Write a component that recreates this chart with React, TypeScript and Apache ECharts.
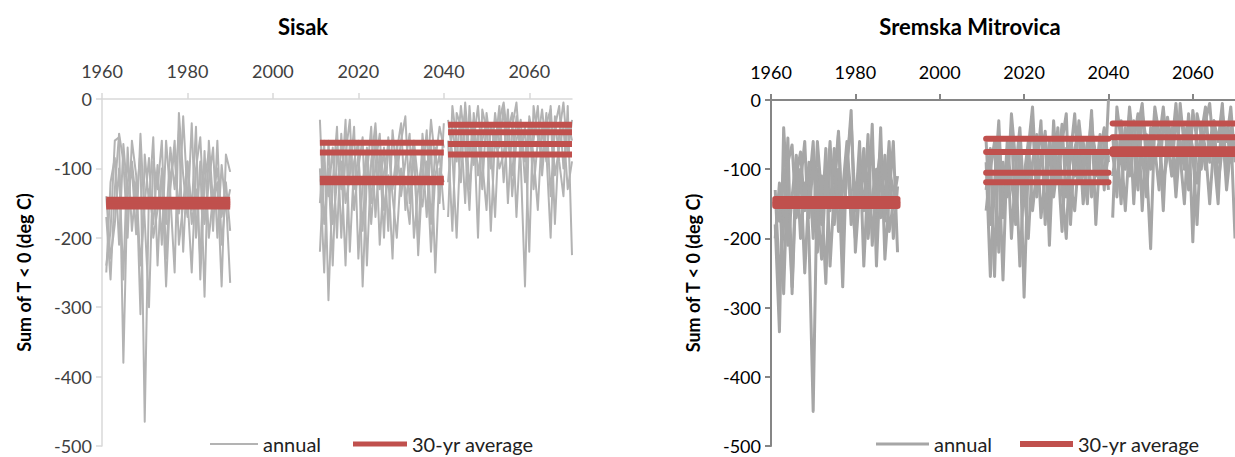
import React, { useEffect, useRef } from "react";
import * as echarts from "echarts";

// ---------- DATA ----------
const xTicks = [1960, 1980, 2000, 2020, 2040, 2060];
const titles = ["Sisak", "Sremska Mitrovica"];
const yName = "Sum of T < 0 (deg C)";
const legendNames = ["annual", "30-yr average"];

const histStart = 1961;
const histEnd = 1990;
const nearStart = 2011;
const nearEnd = 2040;
const farStart = 2041;
const farEnd = 2070;

// Sisak annual members
const sisakHistA = [-240, -190, -60, -55, -380, -120, -90, -150, -75, -465, -130, -180, -95, -210, -60, -140, -250, -20, -110, -170, -35, -200, -90, -285, -60, -150, -120, -270, -80, -105];
const sisakHistB = [-170, -260, -130, -50, -90, -200, -60, -110, -310, -80, -150, -55, -240, -100, -180, -70, -130, -45, -220, -90, -160, -40, -260, -120, -75, -190, -60, -210, -140, -265];
const sisakHistC = [-250, -120, -85, -210, -65, -140, -100, -195, -50, -175, -300, -90, -130, -60, -230, -110, -80, -165, -25, -140, -250, -100, -55, -180, -120, -70, -200, -95, -160, -130];
const sisakHistD = [-140, -230, -180, -100, -260, -70, -190, -120, -240, -150, -85, -200, -160, -110, -270, -130, -60, -210, -150, -90, -180, -130, -230, -75, -200, -140, -100, -170, -120, -190];

const sisakNearA = [-150, -60, -290, -120, -40, -200, -80, -30, -160, -100, -55, -240, -90, -35, -130, -70, -190, -45, -110, -60, -25, -150, -80, -210, -50, -120, -30, -90, -40, -70];
const sisakNearB = [-30, -180, -100, -240, -70, -130, -30, -220, -90, -60, -270, -110, -40, -170, -80, -200, -55, -130, -75, -35, -160, -95, -60, -225, -110, -45, -180, -70, -150, -35];
const sisakNearC = [-220, -90, -140, -70, -200, -50, -150, -110, -40, -230, -120, -75, -180, -95, -50, -160, -110, -230, -65, -140, -90, -50, -200, -130, -80, -170, -60, -250, -100, -120];
const sisakNearD = [-100, -250, -60, -180, -120, -90, -240, -60, -130, -80, -190, -70, -150, -50, -210, -105, -65, -140, -200, -100, -130, -180, -60, -120, -155, -90, -220, -110, -80, -160];

const sisakFarA = [-170, -10, -60, -120, -5, -80, -30, -200, -15, -45, -100, -20, -70, -10, -150, -40, -5, -90, -270, -25, -60, -10, -110, -35, -15, -180, -50, -5, -80, -30];
const sisakFarB = [-60, -190, -20, -40, -150, -10, -95, -50, -130, -20, -70, -170, -30, -5, -60, -110, -25, -80, -40, -220, -10, -55, -90, -20, -140, -40, -10, -100, -30, -60];
const sisakFarC = [-30, -80, -200, -50, -20, -130, -60, -10, -90, -160, -35, -70, -10, -120, -45, -20, -170, -50, -90, -30, -130, -60, -15, -75, -200, -25, -90, -140, -10, -225];
const sisakFarD = [-120, -40, -90, -10, -70, -160, -20, -110, -60, -30, -190, -50, -100, -80, -15, -140, -60, -30, -120, -45, -80, -160, -40, -90, -10, -110, -70, -40, -130, -90];

const sisakHistAvg = [-145, -148, -152, -155];
const sisakNearAvg = [-63, -77, -115, -120];
const sisakFarAvg = [-37, -48, -65, -80];

// Sremska Mitrovica annual members
const sremHistA = [-180, -335, -40, -150, -270, -90, -120, -60, -200, -450, -100, -180, -70, -240, -130, -50, -210, -90, -30, -160, -60, -240, -110, -70, -190, -40, -230, -140, -60, -220];
const sremHistB = [-130, -260, -180, -55, -280, -110, -75, -160, -90, -200, -60, -140, -265, -80, -120, -45, -190, -100, -15, -220, -130, -70, -170, -35, -240, -90, -150, -60, -200, -125];
const sremHistC = [-200, -120, -280, -90, -65, -170, -100, -250, -130, -60, -220, -110, -150, -60, -180, -100, -270, -70, -140, -200, -95, -160, -50, -210, -120, -70, -175, -100, -130, -150];
const sremHistD = [-150, -175, -100, -210, -140, -80, -200, -120, -170, -90, -150, -230, -110, -160, -70, -190, -130, -60, -180, -120, -150, -90, -200, -140, -100, -170, -80, -190, -150, -110];

const sremNearA = [-130, -70, -255, -50, -150, -100, -40, -180, -60, -285, -90, -30, -140, -80, -50, -170, -30, -120, -60, -20, -180, -70, -45, -150, -90, -25, -110, -50, -130, 0];
const sremNearB = [-90, -255, -120, -30, -170, -60, -200, -100, -40, -150, -70, -10, -130, -90, -45, -210, -60, -100, -35, -140, -80, -20, -120, -60, -100, -15, -180, -75, -40, -90];
const sremNearC = [-160, -100, -60, -220, -90, -140, -20, -90, -240, -110, -60, -160, -100, -30, -180, -70, -120, -40, -130, -200, -60, -110, -30, -90, -150, -40, -80, -120, -60, -130];
const sremNearD = [-60, -180, -130, -90, -260, -70, -120, -160, -80, -130, -200, -90, -50, -170, -110, -60, -140, -90, -190, -70, -120, -160, -80, -110, -60, -140, -100, -70, -120, -80];

const sremFarA = [-170, -10, -60, -100, -20, -150, -40, -5, -90, -215, -30, -60, -10, -80, -40, -120, -5, -70, -30, -205, -20, -50, -10, -90, -30, -60, -5, -110, -40, -200];
const sremFarB = [-50, -140, -30, -90, -10, -70, -130, -20, -60, -100, -10, -50, -160, -25, -70, -5, -90, -40, -130, -15, -60, -100, -30, -5, -80, -150, -20, -60, -10, -90];
const sremFarC = [-110, -60, -150, -40, -110, -60, -20, -160, -50, -90, -70, -130, -30, -60, -110, -20, -80, -150, -40, -70, -180, -50, -100, -60, -30, -120, -70, -40, -90, -60];
const sremFarD = [-80, -120, -70, -160, -60, -30, -110, -80, -140, -40, -90, -60, -120, -80, -50, -140, -60, -100, -20, -90, -120, -40, -70, -150, -60, -90, -40, -130, -70, -50];

const sremHistAvg = [-143, -147, -150, -153];
const sremNearAvg = [-56, -75, -105, -119];
const sremFarAvg = [-34, -54, -71, -78];

// ---------- CHART ----------
const FONT = "Lato";
const RED = "#c0504d";

type Style = { gray: string; grayW: number; redW: number; cap: "butt" | "round" };

function annual(vals: number[], start: number, idx: number, st: Style) {
  return {
    type: "line",
    name: legendNames[0],
    xAxisIndex: idx,
    yAxisIndex: idx,
    data: vals.map((v, i) => [start + i, v]),
    symbol: "none",
    showSymbol: false,
    silent: true,
    z: 2,
    lineStyle: { color: st.gray, width: st.grayW, join: "round" },
    itemStyle: { color: st.gray },
  };
}

function avg(v: number, start: number, end: number, idx: number, st: Style) {
  return {
    type: "line",
    name: legendNames[1],
    xAxisIndex: idx,
    yAxisIndex: idx,
    data: [
      [start, v],
      [end, v],
    ],
    symbol: "none",
    showSymbol: false,
    silent: true,
    z: 3,
    lineStyle: { color: RED, width: st.redW, cap: st.cap },
    itemStyle: { color: RED },
  };
}

function buildSeries(
  idx: number,
  st: Style,
  hist: number[][],
  near: number[][],
  far: number[][],
  hAvg: number[],
  nAvg: number[],
  fAvg: number[]
) {
  const out: any[] = [];
  hist.forEach((s) => out.push(annual(s, histStart, idx, st)));
  near.forEach((s) => out.push(annual(s, nearStart, idx, st)));
  far.forEach((s) => out.push(annual(s, farStart, idx, st)));
  hAvg.forEach((v) => out.push(avg(v, histStart, histEnd, idx, st)));
  nAvg.forEach((v) => out.push(avg(v, nearStart, nearEnd, idx, st)));
  fAvg.forEach((v) => out.push(avg(v, farStart, farEnd, idx, st)));
  return out;
}

function xAxis(idx: number, axisColor: string, labelColor: string, w: number) {
  return {
    type: "value",
    gridIndex: idx,
    position: "top",
    min: 1960,
    max: 2070,
    interval: 20,
    splitLine: { show: false },
    axisLine: { show: true, onZero: false, lineStyle: { color: axisColor, width: w } },
    axisTick: { show: true, inside: false, length: 6, lineStyle: { color: axisColor, width: w }, customValues: xTicks },
    axisLabel: {
      show: true,
      margin: 19,
      customValues: xTicks,
      color: labelColor,
      fontFamily: FONT,
      fontSize: 18,
      formatter: (v: number) => String(v),
    },
  };
}

function yAxis(idx: number, axisColor: string, labelColor: string, w: number) {
  return {
    type: "value",
    gridIndex: idx,
    min: -500,
    max: 0,
    interval: 100,
    name: yName,
    nameLocation: "middle",
    nameGap: 69,
    nameRotate: 90,
    nameTextStyle: { fontFamily: FONT, fontSize: 18, fontWeight: "bold", color: "#000" },
    splitLine: { show: false },
    axisLine: { show: true, onZero: false, lineStyle: { color: axisColor, width: w } },
    axisTick: { show: true, length: 6, lineStyle: { color: axisColor, width: w } },
    axisLabel: { margin: 10, color: labelColor, fontFamily: FONT, fontSize: 18, formatter: (v: number) => String(v) },
  };
}

function legendItem(name: string, left: number, w: number, h: number, color: string) {
  return {
    left,
    top: 434,
    padding: 0,
    icon: "rect",
    itemWidth: w,
    itemHeight: h,
    selectedMode: false,
    data: [{ name, icon: "rect", itemStyle: { color, borderWidth: 0 } }],
    textStyle: { fontFamily: FONT, fontSize: 20, lineHeight: 20, color: "#222", padding: 0 },
  };
}

export default function App() {
  const ref = useRef<HTMLDivElement>(null);
  useEffect(() => {
    if (!ref.current) return;
    const chart = echarts.init(ref.current, undefined, { renderer: "svg" });
    const leftStyle: Style = { gray: "#b3b3b3", grayW: 2, redW: 6, cap: "butt" };
    const rightStyle: Style = { gray: "#a6a6a6", grayW: 3, redW: 6, cap: "round" };
    const series = [
      ...buildSeries(
        0,
        leftStyle,
        [sisakHistA, sisakHistB, sisakHistC, sisakHistD],
        [sisakNearA, sisakNearB, sisakNearC, sisakNearD],
        [sisakFarA, sisakFarB, sisakFarC, sisakFarD],
        sisakHistAvg,
        sisakNearAvg,
        sisakFarAvg
      ),
      ...buildSeries(
        1,
        rightStyle,
        [sremHistA, sremHistB, sremHistC, sremHistD],
        [sremNearA, sremNearB, sremNearC, sremNearD],
        [sremFarA, sremFarB, sremFarC, sremFarD],
        sremHistAvg,
        sremNearAvg,
        sremFarAvg
      ),
    ];
    chart.setOption({
      animation: false,
      backgroundColor: "#fff",
      title: [
        {
          text: titles[0],
          left: 298,
          textAlign: "center",
          top: 10,
          textStyle: { fontFamily: FONT, fontSize: 22, fontWeight: "bold", color: "#000" },
        },
        {
          text: titles[1],
          left: 965,
          textAlign: "center",
          top: 10,
          textStyle: { fontFamily: FONT, fontSize: 22, fontWeight: "bold", color: "#000" },
        },
      ],
      legend: [
        legendItem(legendNames[0], 210, 48, 2, "#b3b3b3"),
        legendItem(legendNames[1], 353, 54, 5, RED),
        legendItem(legendNames[0], 876, 53, 3, "#a6a6a6"),
        legendItem(legendNames[1], 1020, 53, 6, RED),
      ],
      grid: [
        { left: 102, top: 99, width: 470, height: 347, containLabel: false },
        { left: 771, top: 100, width: 466, height: 346, containLabel: false },
      ],
      xAxis: [xAxis(0, "#d9d9d9", "#404040", 1.5), xAxis(1, "#868686", "#000", 2)],
      yAxis: [yAxis(0, "#d9d9d9", "#404040", 1.5), yAxis(1, "#868686", "#000", 2)],
      series,
    });
    return () => chart.dispose();
  }, []);
  return <div ref={ref} style={{ position: "absolute", left: 0, top: 0, width: 1235, height: 457 }} />;
}
